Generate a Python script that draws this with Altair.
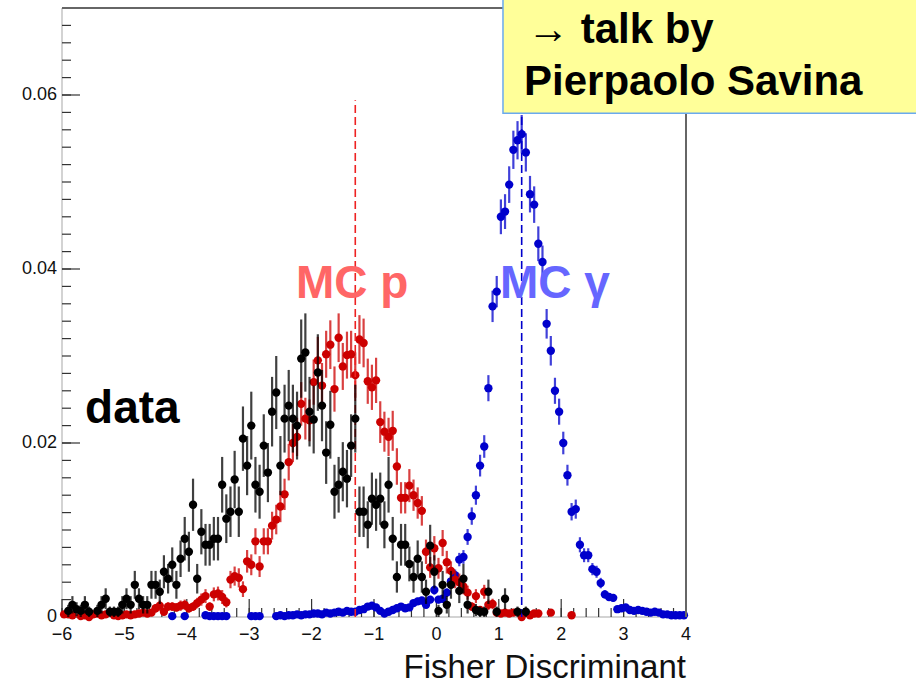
import altair as alt
import pandas as pd

# ---------------- histogram binning (150 bins over [-6, 4]) ----------------
X_MIN, X_MAX, N_BINS = -6.0, 4.0, 150
Y_MAX = 0.07
BIN_W = (X_MAX - X_MIN) / N_BINS
bin_centers = [X_MIN + (i + 0.5) * BIN_W for i in range(N_BINS)]

_ = None
# ---------------- data (black) ----------------
data_y = [
    _, 0.0007, 0.0014, 0.0009, 0.0007, 0.0014, 0.0006, _, 0.0007, 0.0014,
    0.0021, 0.0006, 0.0006, 0.0006, 0.0014, 0.0021, 0.0014, 0.0037, 0.0021, 0.0014,
    0.0014, 0.0037, 0.0037, 0.0029, 0.0052, 0.0044, 0.0060, 0.0037, 0.0067, 0.0090,
    0.0075, 0.0129, 0.0044, 0.0098, 0.0083, 0.0083, 0.0090, 0.0090, 0.0152, 0.0113,
    0.0121, 0.0158, 0.0121, 0.0205, 0.0174, 0.0220, 0.0152, 0.0144, 0.0197, 0.0166,
    0.0236, 0.0258, 0.0174, 0.0228, 0.0243, 0.0228, 0.0220, 0.0297, 0.0304, 0.0236,
    0.0227, 0.0281, 0.0243, 0.0189, 0.0221, 0.0144, 0.0152, 0.0167, 0.0159, 0.0197,
    0.0228, 0.0121, 0.0121, 0.0106, 0.0136, 0.0129, 0.0136, 0.0106, 0.0152, 0.0090,
    0.0046, 0.0083, 0.0083, 0.0061, 0.0046, 0.0067, 0.0046, 0.0029, 0.0082, 0.0052,
    0.0007, 0.0037, 0.0014, 0.0037, _, 0.0030, 0.0044, 0.0014, _, 0.0008,
    0.0006, 0.0006, 0.0029, _, 0.0006, _, 0.0021, _, _, 0.0006,
    _, 0.0006, _, _, _, _, _, _, _, _,
] + [_] * 30
data_err = [
    _, 0.0007, 0.0010, 0.0008, 0.0007, 0.0010, 0.0006, _, 0.0007, 0.0010,
    0.0012, 0.0006, 0.0006, 0.0006, 0.0010, 0.0012, 0.0010, 0.0016, 0.0012, 0.0010,
    0.0010, 0.0016, 0.0016, 0.0014, 0.0019, 0.0017, 0.0020, 0.0016, 0.0021, 0.0025,
    0.0023, 0.0030, 0.0017, 0.0026, 0.0024, 0.0024, 0.0025, 0.0025, 0.0032, 0.0028,
    0.0029, 0.0033, 0.0029, 0.0037, 0.0034, 0.0039, 0.0032, 0.0031, 0.0036, 0.0034,
    0.0040, 0.0042, 0.0034, 0.0039, 0.0041, 0.0039, 0.0039, 0.0045, 0.0045, 0.0040,
    0.0039, 0.0044, 0.0041, 0.0036, 0.0039, 0.0031, 0.0032, 0.0034, 0.0033, 0.0036,
    0.0039, 0.0029, 0.0029, 0.0027, 0.0030, 0.0030, 0.0030, 0.0027, 0.0032, 0.0025,
    0.0018, 0.0024, 0.0024, 0.0020, 0.0018, 0.0021, 0.0018, 0.0014, 0.0024, 0.0019,
    0.0007, 0.0016, 0.0010, 0.0016, _, 0.0014, 0.0017, 0.0010, _, 0.0007,
    0.0006, 0.0006, 0.0014, _, 0.0006, _, 0.0012, _, _, 0.0006,
    _, 0.0006, _, _, _, _, _, _, _, _,
] + [_] * 30

# ---------------- MC p (red) ----------------
mcp_y = [
    0.0003, 0.0003, 0.0002, _, 0.0001, 0.0002, 0.0000, 0.0003, 0.0004, 0.0002,
    0.0003, _, 0.0002, 0.0001, 0.0002, 0.0003, 0.0002, 0.0003, 0.0004, 0.0005,
    0.0004, 0.0005, 0.0010, 0.0013, 0.0006, 0.0012, 0.0012, 0.0011, 0.0013, 0.0014,
    0.0010, 0.0012, 0.0016, 0.0020, 0.0024, 0.0012, 0.0026, 0.0027, 0.0023, 0.0017,
    0.0043, 0.0047, 0.0045, 0.0032, 0.0064, 0.0060, 0.0087, 0.0058, 0.0087, 0.0087,
    0.0105, 0.0112, 0.0127, 0.0141, 0.0178, 0.0200, 0.0207, 0.0245, 0.0228, 0.0226,
    0.0270, 0.0295, 0.0266, 0.0302, 0.0313, 0.0262, 0.0321, 0.0288, 0.0301, 0.0302,
    0.0278, 0.0319, 0.0315, 0.0271, 0.0264, 0.0272, 0.0224, 0.0213, 0.0207, 0.0214,
    0.0173, 0.0137, 0.0137, 0.0151, 0.0140, 0.0131, 0.0122, 0.0075, 0.0057, 0.0079,
    0.0056, 0.0085, 0.0063, 0.0053, 0.0043, 0.0040, 0.0035, 0.0028, 0.0012, 0.0024,
    0.0008, 0.0029, 0.0014, 0.0015, 0.0005, 0.0004, 0.0005, 0.0004, 0.0005, _,
    0.0000, _, 0.0002, 0.0004, 0.0004, _, _, 0.0005, _, _,
    _, _, 0.0002, _, _, _, _, _, _, _,
] + [_] * 20
mcp_err = [
    0.0003, 0.0003, 0.0002, _, 0.0002, 0.0002, 0.0001, 0.0003, 0.0003, 0.0002,
    0.0003, _, 0.0002, 0.0002, 0.0002, 0.0003, 0.0002, 0.0003, 0.0003, 0.0004,
    0.0003, 0.0004, 0.0005, 0.0006, 0.0004, 0.0005, 0.0005, 0.0005, 0.0006, 0.0006,
    0.0005, 0.0005, 0.0006, 0.0007, 0.0008, 0.0005, 0.0008, 0.0008, 0.0008, 0.0006,
    0.0010, 0.0011, 0.0011, 0.0009, 0.0013, 0.0012, 0.0015, 0.0012, 0.0015, 0.0015,
    0.0016, 0.0017, 0.0018, 0.0018, 0.0021, 0.0022, 0.0022, 0.0025, 0.0024, 0.0024,
    0.0026, 0.0027, 0.0026, 0.0027, 0.0028, 0.0026, 0.0028, 0.0027, 0.0027, 0.0027,
    0.0026, 0.0028, 0.0028, 0.0026, 0.0026, 0.0026, 0.0024, 0.0023, 0.0022, 0.0023,
    0.0021, 0.0018, 0.0018, 0.0019, 0.0018, 0.0018, 0.0017, 0.0014, 0.0012, 0.0014,
    0.0012, 0.0015, 0.0013, 0.0011, 0.0010, 0.0010, 0.0009, 0.0008, 0.0005, 0.0008,
    0.0004, 0.0008, 0.0006, 0.0006, 0.0004, 0.0003, 0.0004, 0.0003, 0.0004, _,
    0.0001, _, 0.0002, 0.0003, 0.0003, _, _, 0.0004, _, _,
    _, _, 0.0002, _, _, _, _, _, _, _,
] + [_] * 20

# ---------------- MC gamma (blue) ----------------
mcg_y = [_] * 20 + [
    _, _, _, _, _, _, 0.0001, _, _, 0.0001,
    _, _, _, _, 0.0002, 0.0001, 0.0001, 0.0001, 0.0001, 0.0001,
    _, _, _, _, _, 0.0001, 0.0001, 0.0001, _, _,
    _, 0.0001, 0.0002, 0.0001, 0.0002, 0.0002, 0.0003, 0.0002, 0.0003, 0.0003,
    0.0004, 0.0004, 0.0003, 0.0005, 0.0004, 0.0005, 0.0006, 0.0005, 0.0007, 0.0006,
    0.0006, 0.0008, 0.0009, 0.0012, 0.0013, 0.0011, 0.0007, 0.0004, 0.0006, 0.0008,
    0.0010, 0.0012, 0.0010, 0.0011, 0.0016, 0.0018, 0.0019, 0.0014, 0.0020, 0.0031,
    0.0020, 0.0021, 0.0028, 0.0041, 0.0048, 0.0066, 0.0069, 0.0092, 0.0116, 0.0140,
    0.0174, 0.0196, 0.0263, 0.0357, 0.0374, 0.0460, 0.0466, 0.0497, 0.0537, 0.0548,
    0.0555, 0.0534, 0.0486, 0.0474, 0.0429, 0.0408, 0.0337, 0.0306, 0.0260, 0.0236,
    0.0200, 0.0163, 0.0121, 0.0124, 0.0083, 0.0071, 0.0071, 0.0055, 0.0052, 0.0039,
    0.0026, 0.0023, 0.0022, 0.0009, 0.0010, 0.0011, 0.0008, 0.0007, 0.0008, 0.0007,
    0.0006, 0.0005, 0.0006, 0.0005, 0.0003, 0.0003, 0.0002, 0.0002, 0.0002, 0.0002,
]
mcg_err = [_] * 20 + [
    _, _, _, _, _, _, 0.0001, _, _, 0.0001,
    _, _, _, _, 0.0001, 0.0001, 0.0001, 0.0001, 0.0001, 0.0001,
    _, _, _, _, _, 0.0001, 0.0001, 0.0001, _, _,
    _, 0.0001, 0.00013, 0.0001, 0.00013, 0.00013, 0.00017, 0.00013, 0.00017, 0.00017,
    0.0002, 0.0002, 0.00017, 0.0002, 0.0002, 0.0002, 0.00023, 0.0002, 0.00025, 0.00023,
    0.00023, 0.00027, 0.00029, 0.00033, 0.00034, 0.00031, 0.00025, 0.0002, 0.00023, 0.00027,
    0.0003, 0.00033, 0.0003, 0.00031, 0.00038, 0.0004, 0.00041, 0.00036, 0.00043, 0.00053,
    0.00043, 0.00044, 0.0005, 0.00061, 0.00066, 0.00077, 0.00079, 0.00091, 0.0010, 0.0011,
    0.00125, 0.0013, 0.0015, 0.0018, 0.0018, 0.0020, 0.0020, 0.0021, 0.0022, 0.0022,
    0.0022, 0.0022, 0.0021, 0.0021, 0.0020, 0.0019, 0.0017, 0.0017, 0.0015, 0.0015,
    0.0013, 0.0012, 0.0010, 0.0011, 0.00087, 0.0008, 0.0008, 0.0007, 0.00069, 0.0006,
    0.00048, 0.00046, 0.00045, 0.00029, 0.0003, 0.00032, 0.00027, 0.00025, 0.00027, 0.00025,
    0.00023, 0.00021, 0.00023, 0.00021, 0.00016, 0.00016, 0.00013, 0.00013, 0.00013, 0.00013,
]

# ---------------- means (dashed lines) ----------------
mean_x = [-1.30, 1.3667]
mean_top = 0.0594
mean_colors = ["#ee2222", "#0000cc"]

# ---------------- annotations ----------------
label_text = ["data", "MC p", "MC γ"]
label_x = [-5.63, -2.25, 1.02]
label_y = [0.0223, 0.0367, 0.0367]
label_color = ["#000000", "#ff6666", "#6666ff"]

box_x = [1.067, 7.9]
box_y = [0.0579, 0.0725]
box_text = ["→ talk by", "Pierpaolo Savina"]
box_text_x = [1.452, 1.404]
box_text_y = [0.06594, 0.0600]

x_title = "Fisher Discriminant"

# ---------------- axes ticks and tick labels ----------------
x_major = [-6, -5, -4, -3, -2, -1, 0, 1, 2, 3, 4]
x_major_labels = ["−6", "−5", "−4", "−3", "−2", "−1", "0", "1", "2", "3", "4"]
x_minor = [round(-6 + 0.2 * k, 3) for k in range(51)]
y_major = [0, 0.02, 0.04, 0.06]
y_major_labels = ["0", "0.02", "0.04", "0.06"]
y_minor = [round(0.002 * k, 4) for k in range(35)]

W, H = 624, 609
FONT = "Liberation Sans"

def series_df(ys, errs):
    rows = []
    for c, v, e in zip(bin_centers, ys, errs):
        if v is None:
            continue
        e = e or 0.0
        rows.append({"x": c, "y": v, "lo": max(v - e, 0.0), "hi": v + e})
    return pd.DataFrame(rows)

xs = alt.Scale(domain=[X_MIN, X_MAX], nice=False, zero=False)
ys = alt.Scale(domain=[0, Y_MAX], nice=False, zero=False)

def Xn(f):
    return alt.X(f, type="quantitative", scale=xs, axis=None)

def Yn(f):
    return alt.Y(f, type="quantitative", scale=ys, axis=None)

def hist_layers(df, color):
    base = alt.Chart(df)
    bars = base.mark_rule(color=color, strokeWidth=2.2, opacity=0.75).encode(
        x=Xn("x"), y=Yn("lo"), y2="hi")
    pts = base.mark_circle(color=color, size=70, opacity=1).encode(x=Xn("x"), y=Yn("y"))
    return [bars, pts]

df_data = series_df(data_y, data_err)
df_mcp = series_df(mcp_y, mcp_err)
df_mcg = series_df(mcg_y, mcg_err)

means_df = pd.DataFrame({"x": mean_x, "y0": [0, 0], "y1": [mean_top] * 2, "c": mean_colors})
mean_lines = alt.Chart(means_df).mark_rule(strokeDash=[8, 4], strokeWidth=1.6).encode(
    x=Xn("x"), y=Yn("y0"), y2="y1", color=alt.Color("c:N", scale=None))

# frame: left & bottom light (axis lines), top & right darker
frame_light = pd.DataFrame({"x0": [X_MIN, X_MIN], "x1": [X_MIN, X_MAX],
                            "y0": [0.0, 0.0], "y1": [Y_MAX, 0.0]})
frame_dark = pd.DataFrame({"x0": [X_MIN, X_MAX], "x1": [X_MAX, X_MAX],
                           "y0": [Y_MAX, 0.0], "y1": [Y_MAX, Y_MAX]})
frame1 = alt.Chart(frame_light).mark_rule(color="#c4c4c4", strokeWidth=1.5).encode(
    x=Xn("x0"), x2="x1", y=Yn("y0"), y2="y1")
frame2 = alt.Chart(frame_dark).mark_rule(color="#666666", strokeWidth=2).encode(
    x=Xn("x0"), x2="x1", y=Yn("y0"), y2="y1")

def yticks(vals, length):
    return alt.Chart(pd.DataFrame({"v": vals})).mark_rule(color="#333333", strokeWidth=1.2).encode(
        y=Yn("v"), x=alt.value(0), x2=alt.value(length))

def xticks(vals, length):
    return alt.Chart(pd.DataFrame({"v": vals})).mark_rule(color="#333333", strokeWidth=1.2).encode(
        x=Xn("v"), y=alt.value(H), y2=alt.value(H - length))

x_lab = alt.Chart(pd.DataFrame({"v": x_major, "t": x_major_labels})).mark_text(
    font=FONT, fontSize=18, color="#111111", align="center", baseline="middle"
).encode(x=Xn("v"), y=alt.value(H + 18), text="t:N")
y_lab = alt.Chart(pd.DataFrame({"v": y_major, "t": y_major_labels})).mark_text(
    font=FONT, fontSize=18, color="#111111", align="right", baseline="middle"
).encode(y=Yn("v"), x=alt.value(-5), text="t:N")
x_ttl = alt.Chart(pd.DataFrame({"v": [X_MAX], "t": [x_title]})).mark_text(
    font=FONT, fontSize=33, color="#111111", align="right", baseline="alphabetic"
).encode(x=Xn("v"), y=alt.value(H + 61), text="t:N")

labels_df = pd.DataFrame({"t": label_text, "x": label_x, "y": label_y, "c": label_color})
labels = alt.Chart(labels_df).mark_text(
    align="left", baseline="alphabetic", font=FONT, fontWeight="bold", fontSize=46
).encode(x=Xn("x"), y=Yn("y"), text="t:N", color=alt.Color("c:N", scale=None))

box_df = pd.DataFrame({"x0": [box_x[0]], "x1": [box_x[1]], "y0": [box_y[0]], "y1": [box_y[1]]})
box = alt.Chart(box_df).mark_rect(fill="#ffff99", stroke="#6aaaee", strokeWidth=1.5).encode(
    x=Xn("x0"), x2="x1", y=Yn("y0"), y2="y1")

box_txt_df = pd.DataFrame({"t": box_text, "x": box_text_x, "y": box_text_y})
box_txt = alt.Chart(box_txt_df).mark_text(
    align="left", baseline="alphabetic", font=FONT, fontWeight="bold", fontSize=42, color="#000000"
).encode(x=Xn("x"), y=Yn("y"), text="t:N")

layers = (
    [frame1, yticks(y_minor, 9), yticks(y_major, 18), xticks(x_minor, 9), xticks(x_major, 18)]
    + hist_layers(df_mcg, "#0000cc")
    + hist_layers(df_mcp, "#cc0000")
    + [mean_lines]
    + hist_layers(df_data, "#000000")
    + [frame2, x_lab, y_lab, x_ttl, box, labels, box_txt]
)

chart = alt.layer(*layers).properties(
    width=W, height=H,
    autosize=alt.AutoSizeParams(type="none"),
    padding={"left": 62, "top": 8, "right": 916 - 62 - W, "bottom": 684 - 8 - H},
    background="white",
).configure_view(stroke=None)

chart.save("out.html", embed_options={"renderer": "svg", "actions": False})
